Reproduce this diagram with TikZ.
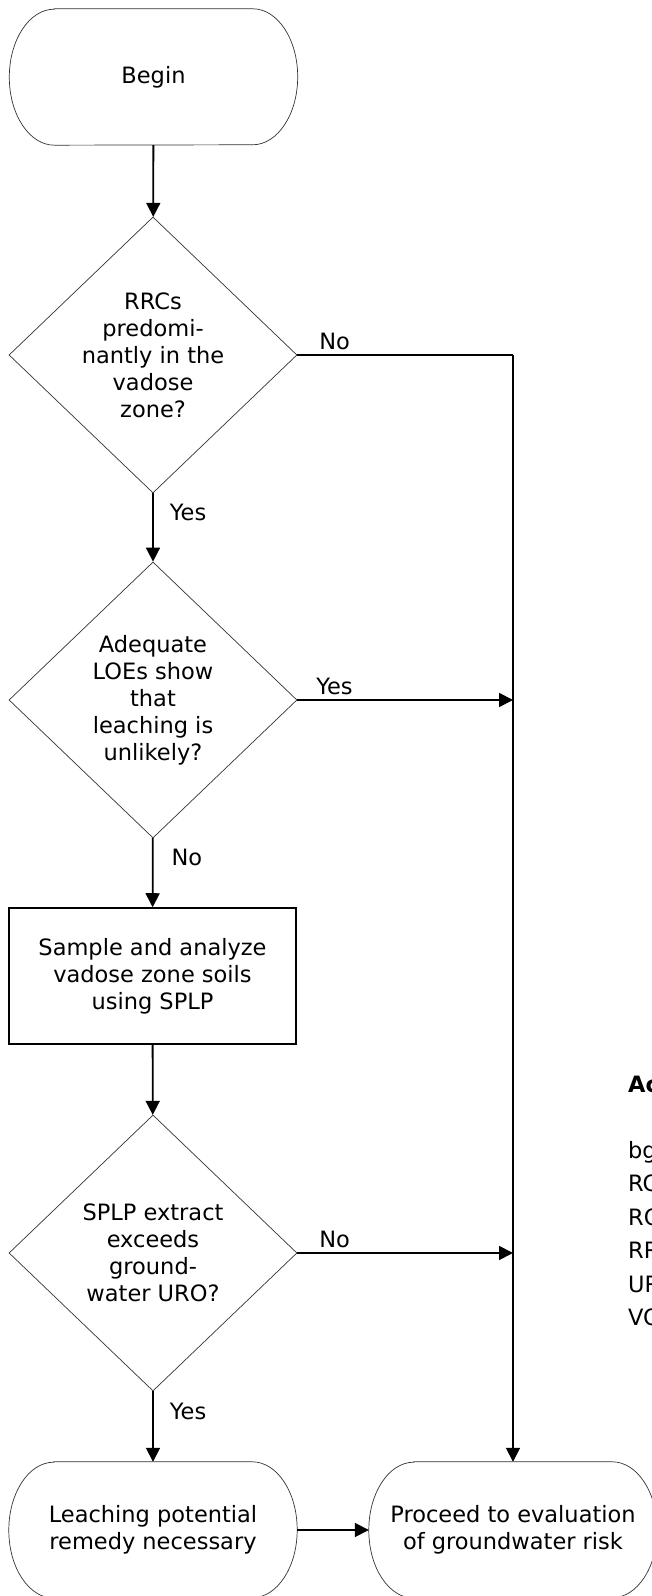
\documentclass[tikz,border=0pt]{standalone}
\usepackage{fontspec}
\setmainfont{DejaVu Sans}
\usetikzlibrary{arrows.meta,shapes.geometric}

\tikzset{
  outline/.style={draw=black!80, line width=0.7bp},
  decision/.style={outline, shape=diamond, inner sep=0pt, shape aspect=1.04,
    minimum width=288bp, minimum height=276bp, align=center},
  process/.style={draw, line width=1.5bp, minimum width=287bp,
    minimum height=136bp, align=center},
  terminal/.style={minimum width=288bp, minimum height=136bp, align=center},
  flow/.style={->, line width=1.8bp},
  lbl/.style={inner sep=2bp},
}

\begin{document}
\begin{tikzpicture}[>={Triangle[length=14bp,width=14bp]},
  font=\fontsize{22.5bp}{27bp}\selectfont]
  \useasboundingbox (0bp,0bp) rectangle (652bp,1596bp);
  \clip (0bp,0bp) rectangle (652bp,1596bp);
%%
  % Node: begin
  \node[terminal] (begin) at (153.5bp,1519bp) {Begin};
  % Node: rrcs
  \node[decision] (rrcs) at (153bp,1241bp) {RRCs\\predomi-\\nantly in the\\vadose\\zone?};
  % Node: loes
  \node[decision] (loes) at (153bp,896bp) {Adequate\\LOEs show\\that\\leaching is\\unlikely?};
  % Node: sample
  \node[process] (sample) at (152.5bp,620bp) {Sample and analyze\\vadose zone soils\\using SPLP};
  % Node: splp
  \node[decision] (splp) at (153bp,343bp) {SPLP extract\\exceeds\\ground-\\water URO?};
  % Node: leach
  \node[terminal] (leach) at (153bp,66bp) {Leaching potential\\remedy necessary};
  % Node: proceed
  \node[terminal] (proceed) at (513bp,66bp) {Proceed to evaluation\\of groundwater risk};
  % Terminal outlines
  \foreach \n in {begin,leach,proceed}
    \draw[outline] ([xshift=45bp]\n.north west) -- ([xshift=-45bp]\n.north east)
      arc[start angle=90, end angle=-90, x radius=45bp, y radius=68bp]
      -- ([xshift=45bp]\n.south west)
      arc[start angle=270, end angle=90, x radius=45bp, y radius=68bp] -- cycle;
  % Node: acronyms
  \node[anchor=base west, align=left, inner sep=0pt,
    font=\fontsize{22.5bp}{33.5bp}\selectfont] (acro) at (628bp,270bp)
    {\textbf{Acronyms}\\[32.5bp]bgs\\RCRA\\ROC\\RRC\\URO\\VOC};
%%
  \coordinate (corner) at (513bp,1241bp);
  % Edge: begin -> rrcs
  \draw[flow] (begin) -- (rrcs);
  % Edge: rrcs -> loes
  \draw[flow] (rrcs) -- node[lbl, right, pos=0.28, xshift=14bp] {Yes} (loes);
  % Edge: rrcs -> proceed
  \draw[line width=1.8bp] (rrcs.east) -- node[lbl, above right, pos=0, xshift=19bp, yshift=2bp] {No} (corner);
  \draw[flow] (corner) -- (proceed.north);
  % Edge: loes -> proceed
  \draw[flow] (loes.east) -- node[lbl, above right, pos=0, xshift=16bp, yshift=2bp] {Yes} (loes.east -| corner);
  % Edge: loes -> sample
  \draw[flow] (loes) -- node[lbl, right, pos=0.28, xshift=16bp] {No} (sample);
  % Edge: sample -> splp
  \draw[flow] (sample) -- (splp);
  % Edge: splp -> proceed
  \draw[flow] (splp.east) -- node[lbl, above right, pos=0, xshift=19bp, yshift=2bp] {No} (splp.east -| corner);
  % Edge: splp -> leach
  \draw[flow] (splp) -- node[lbl, right, pos=0.28, xshift=14bp] {Yes} (leach);
  % Edge: leach -> proceed
  \draw[flow] (leach) -- (proceed);
%
\end{tikzpicture}
\end{document}
